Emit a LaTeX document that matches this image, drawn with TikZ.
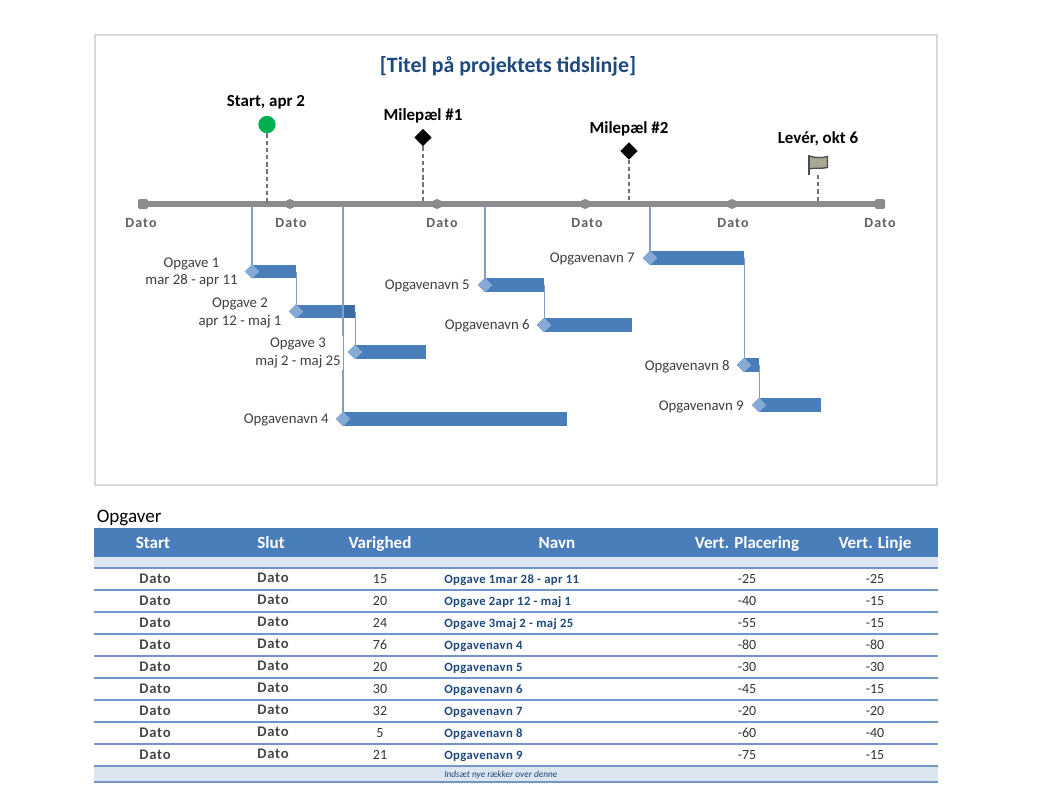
\documentclass[tikz,border=0pt]{standalone}
\usepackage{fontspec}
\setmainfont{Carlito}
\newfontfamily\datofont[LetterSpace=8]{Carlito}
\newfontfamily\rowfont[LetterSpace=5]{Carlito}
\newfontfamily\nameFont[LetterSpace=3]{Carlito}
\usetikzlibrary{shapes.geometric}
\definecolor{barblue}{HTML}{4A7EBB}
\definecolor{bardark}{HTML}{3D6BA6}
\definecolor{linkblue}{HTML}{7F9DC6}
\definecolor{diablue}{HTML}{86A9D6}
\definecolor{bandblue}{HTML}{DCE6F1}
\definecolor{navy}{HTML}{1F497D}
\definecolor{axisgray}{HTML}{8C8C8C}
\definecolor{txtgray}{HTML}{3F3F3F}
\definecolor{flaggray}{HTML}{A8A793}
\definecolor{startgreen}{HTML}{00B050}
\definecolor{rulecol}{HTML}{7396C8}
\tikzset{
 x=0.75pt,y=-0.75pt,
 frame/.style={draw=black!15,line width=1.7pt},
 axisline/.style={draw=axisgray,line width=4.2pt},
 tickmark/.style={fill=axisgray,inner sep=0pt,minimum size=7.5pt,rounded corners=1pt},
 datolabel/.style={font=\datofont\fontsize{10.5}{12}\selectfont\bfseries,text=black!62,inner sep=0pt},
 msname/.style={font=\fontsize{12.7}{15}\selectfont\bfseries,text=black,inner sep=0pt},
 stem/.style={draw=black!55,dashed,dash pattern=on 3.2pt off 2.2pt,line width=1.1pt},
 msdia/.style={diamond,fill=black,inner sep=0pt,minimum size=13pt},
 startdot/.style={circle,fill=startgreen,inner sep=0pt,minimum size=13pt},
 bar/.style={rectangle,fill=barblue,inner sep=0pt,minimum height=10.2pt,anchor=west},
 dia/.style={diamond,fill=diablue,inner sep=0pt,minimum size=11pt},
 link/.style={draw=linkblue,line width=1.2pt},
 tasklabel/.style={font=\fontsize{11.1}{13.2}\selectfont,text=txtgray,align=center,inner sep=0pt},
 head/.style={font=\fontsize{12.8}{15}\selectfont\bfseries,text=white,inner sep=0pt},
 cell/.style={font=\rowfont\fontsize{11}{12}\selectfont\bfseries,text=black!72,inner sep=0pt},
 num/.style={font=\fontsize{10.5}{12}\selectfont,text=black!80,inner sep=0pt},
 tname/.style={font=\nameFont\fontsize{9.5}{11}\selectfont\bfseries,text=navy,inner sep=0pt,anchor=west},
 rule/.style={draw=rulecol,line width=1.4pt},
}
\begin{document}
\begin{tikzpicture}
\useasboundingbox (0,0) rectangle (1038,800);
\fill[white] (0,0) rectangle (1038,800);
\draw[frame] (95,35) rectangle (937,485);
\node[font=\fontsize{16.4}{19}\selectfont\bfseries,text=navy] (title) at (508,66) {[Titel på projektets tidslinje]};
% axis
\node[tickmark] (t0) at (143,204) {};
\node[tickmark,circle] (t1) at (290,204) {};
\node[tickmark,circle] (t2) at (437,204) {};
\node[tickmark,circle] (t3) at (585,204) {};
\node[tickmark,circle] (t4) at (732,204) {};
\node[tickmark] (t5) at (880,204) {};
\draw[axisline] (t0.center) -- (t5.center);
\node[datolabel] (d0) at (141,223.5) {Dato};
\node[datolabel] (d1) at (291,223.5) {Dato};
\node[datolabel] (d2) at (442,223.5) {Dato};
\node[datolabel] (d3) at (587,223.5) {Dato};
\node[datolabel] (d4) at (733,223.5) {Dato};
\node[datolabel] (d5) at (880,223.5) {Dato};
% milestones
\coordinate (a1) at (267,203);
\coordinate (a2) at (423,203);
\coordinate (a3) at (629,203);
\coordinate (a4) at (818,203);
\node[startdot] (ms1) at (267,124.5) {};
\node[msdia] (ms2) at (423,137.5) {};
\node[msdia] (ms3) at (629,151) {};
\node[msname] (ml1) at (266,102) {Start, apr 2};
\node[msname] (ml2) at (423,115.5) {Milepæl \#1};
\node[msname] (ml3) at (629,128.5) {Milepæl \#2};
\node[msname] (ml4) at (818,138.5) {Levér, okt 6};
\coordinate (fl) at (818,175);
\draw[stem] (ms1) -- (a1);
\draw[stem] (ms2) -- (a2);
\draw[stem] (ms3) -- (a3);
\draw[stem] (fl) -- (a4);
\draw[draw=black!70,line width=1pt,fill=flaggray] (809,156) .. controls (815,157.5) and (821,158.5) .. (827.5,156.5) -- (827.5,167.5) .. controls (821,169) and (815,167.5) .. (809,169) -- cycle;
\draw[draw=black!70,line width=1.6pt] (809,155) -- (809,175);
% bars
\node[bar,minimum width=33pt] (b1) at (252,271.5) {};
\node[bar,minimum width=44.25pt] (b2) at (296,311.5) {};
\node[bar,minimum width=53.25pt] (b3) at (355,352) {};
\node[bar,minimum width=168pt] (b4) at (343,419) {};
\node[bar,minimum width=44.25pt] (b5) at (485,285) {};
\node[bar,minimum width=66pt] (b6) at (544,325) {};
\node[bar,minimum width=70.5pt] (b7) at (650,258) {};
\node[bar,minimum width=11.25pt] (b8) at (744,365) {};
\node[bar,minimum width=46.5pt] (b9) at (759,405) {};
\fill[bardark] (343,304.7) rectangle (355,318.3);
% feet on axis
\coordinate (f1) at (252,206);
\coordinate (f4) at (343,206);
\coordinate (f5) at (485,206);
\coordinate (f7) at (650,206);
\foreach \n in {1,...,9} {\node[dia] (k\n) at (b\n.west) {};}
\draw[link] (f1) -- (k1.center);
\draw[link] (f4) -- (k4.center);
\draw[link] (f5) -- (k5.center);
\draw[link] (f7) -- (k7.center);
\draw[link] (b1.east) -- (b1.east |- k2.center);
\draw[link] (b2.east) -- (b2.east |- k3.center);
\draw[link] (b5.east) -- (b5.east |- k6.center);
\draw[link] (b7.east) -- (b7.east |- k8.center);
\draw[link] (b8.east) -- (b8.east |- k9.center);
\foreach \n in {1,...,9} {\node[dia] at (b\n.west) {};}
% labels
\node[tasklabel] (l1) at (191.5,272.5) {Opgave 1\\mar 28 - apr 11};
\node[tasklabel] (l2) at (240,313) {Opgave 2\\apr 12 - maj 1};
\node[tasklabel,fill=white,inner sep=1.5pt,minimum width=66pt] (l3) at (298,353) {Opgave 3\\maj 2 - maj 25};
\node[tasklabel,anchor=east] (l4) at (329,420) {Opgavenavn 4};
\node[tasklabel,anchor=east] (l5) at (470,286) {Opgavenavn 5};
\node[tasklabel,anchor=east] (l6) at (530,326) {Opgavenavn 6};
\node[tasklabel,anchor=east] (l7) at (635,259) {Opgavenavn 7};
\node[tasklabel,anchor=east] (l8) at (730,366.5) {Opgavenavn 8};
\node[tasklabel,anchor=east] (l9) at (744,406.5) {Opgavenavn 9};
% table
\node[font=\fontsize{14.3}{16}\selectfont,text=black,inner sep=0pt,anchor=west] (tt) at (96.5,518) {Opgaver};
\fill[barblue] (94,528) rectangle (938,556.5);
\fill[bandblue] (94,557) rectangle (938,568);
\fill[bandblue] (94,766) rectangle (938,782);
\foreach \y in {568,590,612,634,656,678,700,722,744,766,782} {\draw[rule] (94,\y) -- (938,\y);}
\node[head,anchor=base] (h1) at (153,548.5) {Start};
\node[head,anchor=base] (h2) at (271,548.5) {Slut};
\node[head,anchor=base] (h3) at (380,548.5) {Varighed};
\node[head,anchor=base] (h4) at (557,548.5) {Navn};
\node[head,anchor=base] (h5) at (747,548.5) {Vert. Placering};
\node[head,anchor=base] (h6) at (875,548.5) {Vert. Linje};
\foreach \y/\a/\b/\c/\d/\e in {
 583/15/Opgave 1mar 28 - apr 11/-25/-25/1,
 605/20/Opgave 2apr 12 - maj 1/-40/-15/2,
 627/24/Opgave 3maj 2 - maj 25/-55/-15/3,
 649.5/76/Opgavenavn 4/-80/-80/4,
 671.5/20/Opgavenavn 5/-30/-30/5,
 693.5/30/Opgavenavn 6/-45/-15/6,
 715.5/32/Opgavenavn 7/-20/-20/7,
 737.5/5/Opgavenavn 8/-60/-40/8,
 759.5/21/Opgavenavn 9/-75/-15/9} {
 \node[cell,anchor=base] (s\e) at (155,\y) {Dato};
 \node[cell,anchor=base] (e\e) at (273,\y-0.7) {Dato};
 \node[num,anchor=base] (v\e) at (380,\y) {\a};
 \node[tname,anchor=base west] (n\e) at (444,\y) {\b};
 \node[num,anchor=base] (p\e) at (747,\y) {\c};
 \node[num,anchor=base] (q\e) at (875,\y) {\d};
}
\node[font=\fontsize{7}{9}\selectfont\itshape,text=navy,inner sep=0pt,anchor=west] (foot) at (444,774.5) {Indsæt nye rækker over denne};
\end{tikzpicture}
\end{document}
